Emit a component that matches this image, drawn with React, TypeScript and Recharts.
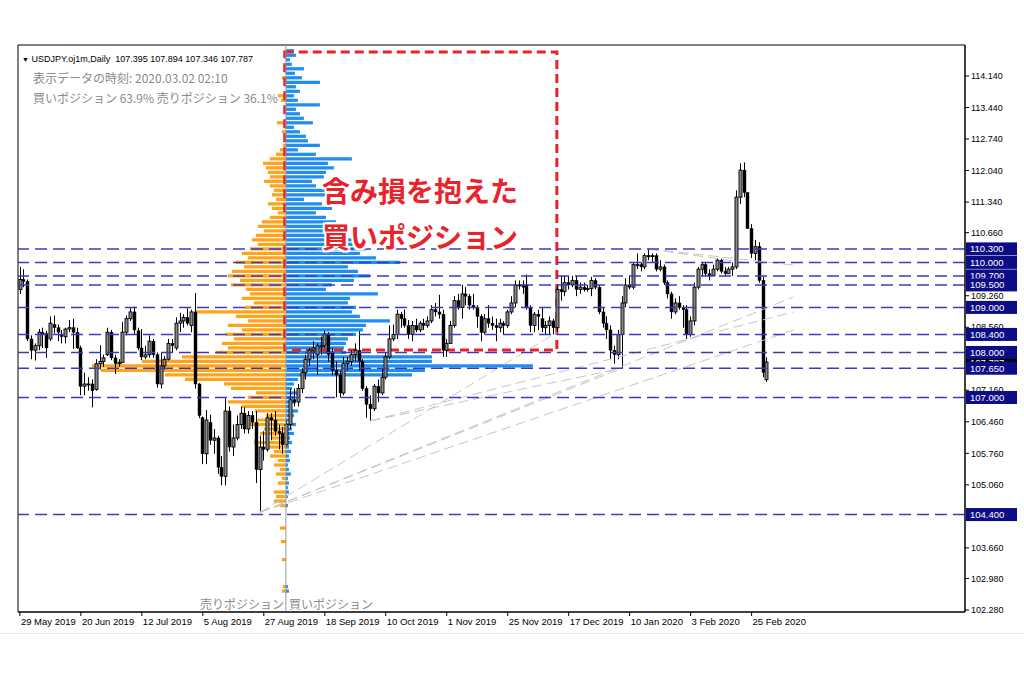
import { ComposedChart, Bar, XAxis, YAxis, ReferenceArea, ReferenceLine } from 'recharts';

// daily USDJPY bars, 29 May 2019 .. 2 Mar 2020 (index 0 = 29 May 2019)
const opens = [
  109.40, 109.62, 109.58, 108.30, 108.05, 108.15, 108.45, 108.42, 108.30, 108.62,
  108.55, 108.40, 108.35, 108.52, 108.55, 108.45, 108.10, 107.25, 107.30, 107.30,
  107.18, 107.75, 107.80, 107.95, 108.45, 107.88, 107.75, 107.78, 108.45, 108.75,
  108.90, 108.48, 108.10, 107.90, 107.95, 108.25, 107.95, 107.30, 107.70, 107.85,
  108.20, 108.10, 108.65, 108.70, 108.78, 108.60, 108.90, 107.30, 106.55, 105.75,
  106.45, 106.05, 106.10, 105.45, 105.25, 106.70, 105.90, 106.10, 106.40, 106.65,
  106.30, 106.60, 106.45, 105.40, 105.90, 105.85, 106.55, 106.50, 106.25, 106.20,
  105.95, 106.40, 106.95, 106.90, 107.20, 107.55, 107.85, 108.05, 107.95, 108.15,
  108.15, 108.40, 108.00, 107.60, 107.50, 107.10, 107.75, 107.80, 107.95, 108.05,
  107.80, 107.20, 106.85, 106.75, 107.25, 107.10, 107.45, 107.90, 108.30, 108.40,
  108.85, 108.75, 108.60, 108.40, 108.60, 108.50, 108.65, 108.60, 108.70, 108.95,
  108.90, 108.85, 108.05, 108.20, 108.60, 109.15, 109.00, 109.30, 109.25, 109.05,
  109.00, 108.80, 108.45, 108.75, 108.65, 108.60, 108.55, 108.65, 108.60, 108.90,
  109.10, 109.50, 109.50, 109.50, 109.00, 108.60, 108.85, 108.75, 108.55, 108.60,
  108.70, 108.55, 109.40, 109.35, 109.55, 109.50, 109.60, 109.40, 109.45, 109.40,
  109.42, 109.60, 109.45, 108.90, 108.65, 108.50, 108.05, 107.95, 108.40, 109.10,
  109.50, 109.45, 109.95, 109.95, 109.90, 110.15, 110.15, 110.15, 109.85, 109.90,
  109.55, 109.30, 108.90, 109.10, 109.00, 108.95, 108.40, 108.70, 109.45, 109.85,
  109.95, 109.75, 109.70, 109.85, 110.05, 109.80, 109.75, 109.85, 109.90, 111.45,
  112.05, 111.55, 110.75, 110.20, 110.35, 109.60, 107.395,
];
const highs = [
  109.90, 109.85, 109.62, 108.38, 108.20, 108.52, 108.55, 108.48, 108.80, 108.82,
  108.62, 108.50, 108.55, 108.72, 108.75, 108.55, 108.15, 107.55, 107.45, 107.40,
  107.85, 108.16, 107.95, 108.55, 108.50, 107.95, 107.85, 108.68, 108.82, 108.99,
  109.02, 108.55, 108.52, 108.15, 108.38, 108.30, 108.00, 108.00, 107.92, 108.30,
  108.30, 108.78, 108.88, 108.85, 108.98, 108.95, 109.32, 107.32, 106.58, 106.72,
  106.62, 106.30, 106.15, 105.70, 106.98, 106.80, 106.40, 106.60, 106.80, 106.78,
  106.70, 106.70, 106.70, 106.15, 106.25, 106.65, 106.65, 106.70, 106.40, 106.35,
  106.50, 107.20, 107.20, 107.30, 107.65, 107.95, 108.10, 108.25, 108.20, 108.35,
  108.48, 108.45, 108.10, 107.80, 107.60, 107.90, 107.90, 108.05, 108.20, 108.47,
  107.85, 107.25, 107.05, 107.30, 107.40, 107.65, 108.00, 108.60, 108.62, 108.95,
  108.90, 108.95, 108.72, 108.70, 108.75, 108.70, 108.75, 108.80, 109.05, 109.10,
  109.28, 108.95, 108.30, 108.70, 109.25, 109.30, 109.50, 109.45, 109.30, 109.30,
  109.05, 108.85, 108.85, 109.05, 108.80, 108.75, 108.75, 108.70, 108.95, 109.25,
  109.60, 109.60, 109.60, 109.73, 109.05, 108.90, 108.95, 109.00, 108.70, 108.80,
  108.75, 109.50, 109.70, 109.70, 109.70, 109.70, 109.70, 109.55, 109.55, 109.50,
  109.68, 109.65, 109.50, 109.00, 108.80, 108.60, 108.15, 108.50, 109.25, 109.65,
  109.70, 110.00, 110.20, 110.00, 110.20, 110.30, 110.20, 110.20, 110.05, 109.95,
  109.60, 109.35, 109.20, 109.25, 109.05, 109.05, 108.80, 109.55, 109.90, 110.00,
  110.00, 109.85, 109.95, 110.10, 110.08, 109.90, 109.90, 110.00, 111.60, 112.20,
  112.22, 111.55, 110.85, 110.50, 110.45, 109.68, 107.894,
];
const lows = [
  109.30, 109.45, 108.25, 107.85, 107.82, 108.05, 108.10, 107.88, 108.25, 108.42,
  108.25, 108.20, 108.20, 108.45, 108.08, 108.08, 107.05, 107.05, 107.15, 106.78,
  107.15, 107.62, 107.68, 107.92, 107.83, 107.52, 107.68, 107.78, 108.38, 108.70,
  108.40, 108.05, 107.83, 107.85, 107.88, 107.88, 107.22, 107.20, 107.62, 107.82,
  108.00, 108.05, 108.45, 108.55, 108.60, 108.45, 107.20, 106.54, 105.52, 105.52,
  105.95, 105.75, 105.30, 105.05, 105.05, 105.80, 105.70, 106.05, 106.30, 106.20,
  106.20, 106.30, 105.10, 104.45, 105.60, 105.80, 106.05, 106.15, 105.85, 105.75,
  105.90, 106.30, 106.80, 106.80, 107.10, 107.40, 107.70, 107.85, 107.50, 107.95,
  108.10, 107.80, 107.50, 107.00, 107.00, 107.05, 107.60, 107.70, 107.80, 107.60,
  107.15, 106.55, 106.48, 106.70, 106.90, 107.05, 107.40, 107.85, 108.25, 108.30,
  108.55, 108.55, 108.30, 108.25, 108.45, 108.45, 108.50, 108.55, 108.65, 108.80,
  108.75, 107.90, 107.90, 108.20, 108.55, 108.95, 108.75, 109.05, 108.95, 108.95,
  108.55, 108.25, 108.40, 108.55, 108.50, 108.25, 108.45, 108.40, 108.55, 108.85,
  109.00, 109.40, 109.30, 108.95, 108.45, 108.45, 108.50, 108.45, 108.40, 108.40,
  108.40, 108.45, 109.15, 109.25, 109.40, 109.45, 109.25, 109.30, 109.35, 109.35,
  109.25, 109.40, 108.85, 108.55, 108.30, 107.85, 107.75, 107.85, 107.65, 109.00,
  109.40, 109.40, 109.85, 109.80, 109.85, 110.05, 110.00, 109.80, 109.80, 109.50,
  109.20, 108.75, 108.85, 108.95, 108.55, 108.30, 108.35, 108.60, 109.40, 109.70,
  109.70, 109.60, 109.70, 109.80, 109.75, 109.70, 109.75, 109.70, 109.85, 111.30,
  111.45, 110.75, 110.10, 110.05, 109.55, 107.45, 107.346,
];
const closes = [
  109.62, 109.58, 108.30, 108.05, 108.15, 108.45, 108.40, 108.10, 108.65, 108.55,
  108.45, 108.35, 108.52, 108.55, 108.45, 108.10, 107.25, 107.30, 107.30, 107.15,
  107.75, 107.80, 107.88, 108.45, 107.88, 107.75, 107.78, 108.45, 108.75, 108.90,
  108.50, 108.10, 107.90, 107.95, 108.25, 107.95, 107.30, 107.70, 107.85, 108.20,
  108.15, 108.65, 108.70, 108.78, 108.65, 108.90, 107.30, 106.60, 105.75, 106.50,
  106.05, 106.10, 105.45, 105.25, 106.70, 105.90, 106.10, 106.40, 106.65, 106.30,
  106.60, 106.45, 105.40, 105.90, 105.85, 106.55, 106.50, 106.25, 106.20, 105.95,
  106.40, 106.95, 106.90, 107.20, 107.55, 107.85, 108.05, 108.10, 108.15, 108.15,
  108.40, 107.95, 107.60, 107.50, 107.10, 107.75, 107.80, 107.95, 108.05, 107.80,
  107.20, 106.85, 106.75, 107.25, 107.10, 107.45, 107.90, 108.30, 108.40, 108.85,
  108.75, 108.60, 108.40, 108.60, 108.50, 108.65, 108.60, 108.70, 108.95, 108.90,
  108.85, 108.05, 108.20, 108.60, 109.15, 109.00, 109.30, 109.25, 109.05, 109.00,
  108.80, 108.45, 108.75, 108.65, 108.60, 108.55, 108.65, 108.60, 108.90, 109.10,
  109.50, 109.50, 109.45, 109.00, 108.60, 108.85, 108.80, 108.55, 108.60, 108.70,
  108.55, 109.40, 109.35, 109.55, 109.50, 109.60, 109.40, 109.45, 109.40, 109.42,
  109.60, 109.45, 108.90, 108.65, 108.50, 108.05, 107.95, 108.40, 109.10, 109.50,
  109.45, 109.95, 109.95, 109.90, 110.15, 110.15, 110.15, 109.85, 109.90, 109.55,
  109.30, 108.90, 109.10, 109.00, 108.95, 108.40, 108.70, 109.45, 109.85, 109.95,
  109.75, 109.70, 109.85, 110.05, 109.80, 109.75, 109.85, 109.90, 111.45, 112.05,
  111.55, 110.75, 110.20, 110.35, 109.60, 107.55, 107.787,
];

const dateTicks = [0, 16, 32, 48, 64, 80, 96, 112, 128, 144, 160, 176, 192];
const dateLabels = [
  '29 May 2019', '20 Jun 2019', '12 Jul 2019', '5 Aug 2019', '27 Aug 2019', '18 Sep 2019',
  '10 Oct 2019', '1 Nov 2019', '25 Nov 2019', '17 Dec 2019', '10 Jan 2020', '3 Feb 2020', '25 Feb 2020',
];
// 109.960, 107.860 and 104.360 sit under the level tags
const priceTicks = [
  114.14, 113.44, 112.74, 112.04, 111.34, 110.66, 109.26, 108.56,
  107.16, 106.46, 105.76, 105.06, 103.66, 102.98, 102.28,
];

// order book, 0.1 yen buckets from 114.8 down to 102.6 (% of positions)
const bookTop = 114.8;
const bookStep = 0.1;
const buyBook = [
  0.05, 0.08, 0.10, 0.04, 0.06, 0.18, 0.09, 0.16, 0.34, 0.10,
  0.14, 0.08, 0.12, 0.34, 0.10, 0.14, 0.18, 0.27, 0.08, 0.14,
  0.20, 0.22, 0.34, 0.12, 0.30, 0.66, 0.42, 0.48, 0.40, 0.38,
  0.26, 0.30, 0.52, 0.44, 0.18, 0.36, 0.46, 0.30, 0.40, 0.50,
  0.44, 0.56, 0.62, 0.66, 0.70, 0.80, 0.74, 0.90, 1.14, 0.62,
  0.72, 0.84, 0.68, 0.46, 0.40, 0.92, 0.64, 0.62, 0.70, 0.66,
  0.74, 1.04, 0.80, 0.77, 0.70, 0.62, 0.60, 0.58, 0.60, 1.46,
  1.46, 2.47, 1.39, 1.26, 0.12, 0.08, 0.06, 0.12, 0.08, 0.10,
  0.06, 0.12, 0.08, 0.04, 0.10, 0.06, 0.08, 0.04, 0.06, 0.03,
  0.05, 0.03, 0.04, 0.02, 0.03, 0.05, 0.02, 0.03, 0.02, 0.03,
  0.02, 0, 0.02, 0, 0, 0, 0, 0, 0, 0,
  0, 0, 0, 0, 0, 0, 0, 0, 0, 0,
  0.02, 0.03, 0,
];
const sellBook = [
  0, 0, 0, 0, 0, 0, 0, 0.04, 0, 0,
  0, 0.08, 0.05, 0, 0, 0, 0, 0.09, 0, 0.04,
  0, 0, 0.03, 0.06, 0.10, 0.16, 0.23, 0.20, 0.18, 0.16,
  0.22, 0.16, 0.12, 0.14, 0.10, 0.18, 0.14, 0.08, 0.16, 0.24,
  0.28, 0.22, 0.30, 0.34, 0.28, 0.36, 0.44, 0.38, 0.50, 0.42,
  0.54, 0.58, 0.46, 0.55, 0.40, 0.36, 0.44, 0.32, 0.41, 0.91,
  0.50, 0.38, 0.58, 0.44, 0.60, 0.52, 0.64, 0.58, 0.70, 1.04,
  1.44, 1.94, 1.85, 1.21, 1.01, 0.62, 0.55, 0.30, 0.38, 0.58,
  0.44, 0.31, 0.20, 0.30, 0.38, 0.22, 0.26, 0.15, 0.32, 0.18,
  0.12, 0.16, 0.08, 0.12, 0.06, 0.10, 0.04, 0.08, 0, 0.12,
  0.10, 0.12, 0.06, 0, 0, 0, 0, 0.06, 0, 0,
  0.05, 0, 0, 0, 0.04, 0, 0, 0, 0, 0,
  0.03, 0.04, 0,
];
// the book's zero line sits at this bar; 1% of positions spans this many bars
const bookCenter = 69.8;
const barsPerPercent = 26.24;

const levels = [110.3, 110.0, 109.7, 109.5, 109.0, 108.4, 108.0, 107.65, 107.0, 104.4];
const lastPrice = 107.787;

// trend lines drawn on the chart: [bar, price, bar, price]
const trendLines = [
  [63, 104.45, 141, 108.45],
  [63, 104.45, 158, 107.65],
  [63, 104.45, 203, 109.23],
  [63, 104.45, 203, 108.5],
  [92, 106.48, 158, 107.65],
  [92, 106.48, 203, 108.9],
  [165, 110.3, 203, 109.94],
  [165, 110.3, 190, 110.0],
];

// box around the loss-making buy positions: [bar, bar, price, price]
const lossBox = [69.5, 140.9, 108.055, 114.673];

const candles = opens.map((o, i) => ({
  i,
  open: o,
  high: highs[i],
  low: lows[i],
  close: closes[i],
}));

const bookRows = buyBook.map((b, k) => ({
  price: +(bookTop - k * bookStep).toFixed(2),
  buy: b,
  sell: sellBook[k],
}));

const FONT = '"Liberation Sans", Arial, sans-serif';
const JP = '"Noto Sans CJK JP", sans-serif';
const Y_DOMAIN = [102.236, 114.828];

function Candle(props: any) {
  const { x, y, width, height, payload } = props;
  if (x == null || !payload) return null;
  const top = Math.min(y, y + height);
  const h = Math.abs(height);
  const { open, high, low, close } = payload;
  const span = high - low || 1e-6;
  const yOf = (v: number) => top + ((high - v) / span) * h;
  const cx = Math.round(x + width / 2) + 0.5;
  const bull = close >= open;
  const bTop = yOf(Math.max(open, close));
  const bBot = yOf(Math.min(open, close));
  return (
    <g>
      <line x1={cx} x2={cx} y1={top} y2={top + h} stroke="#000" strokeWidth={1} />
      <rect
        x={cx - 1.5}
        y={bTop}
        width={3}
        height={Math.max(bBot - bTop, 1)}
        fill={bull ? '#8c8c8c' : '#000'}
        stroke="#000"
        strokeWidth={bull ? 0.9 : 0.4}
      />
    </g>
  );
}

function DateTick(props: any) {
  const { x, y, payload } = props;
  const label = dateLabels[dateTicks.indexOf(payload.value)];
  return (
    <text x={x + 1} y={y + 7} fontSize={9.5} fontFamily={FONT} fill="#000" textAnchor="start">
      {label}
    </text>
  );
}

// price tags sit on a thin axis placed right of the price scale, so they draw over it
function TagTick(props: any) {
  const { x, y, payload } = props;
  const v = payload.value;
  const isLast = v === lastPrice;
  const left = x - 54;
  return (
    <g>
      <rect x={left} y={y - 6.5} width={51} height={13} fill={isLast ? '#000' : '#0c0c86'} />
      <text x={left + 4} y={y + 3.5} fontSize={9.5} fontFamily={FONT} fill="#fff">
        {v.toFixed(3)}
      </text>
    </g>
  );
}

export default function App() {
  return (
    <div style={{ position: 'fixed', left: 0, top: 0, width: 1024, height: 683, background: '#fff', overflow: 'hidden' }}>
      <ComposedChart width={1024} height={683} data={candles} margin={{ top: 45, right: 3, bottom: 51, left: 18 }}>
        <XAxis
          xAxisId="t"
          type="number"
          dataKey="i"
          domain={[-0.5, 248]}
          allowDataOverflow
          ticks={dateTicks}
          interval={0}
          height={20}
          tickSize={4}
          axisLine={{ stroke: '#000' }}
          tickLine={{ stroke: '#000' }}
          tick={<DateTick />}
        />
        <YAxis
          orientation="right"
          width={55}
          domain={Y_DOMAIN}
          allowDataOverflow
          ticks={priceTicks}
          interval={0}
          tickSize={4}
          tickFormatter={(v: number) => v.toFixed(3)}
          tick={{ fontSize: 9, fill: '#000', fontFamily: FONT }}
          axisLine={{ stroke: '#000' }}
          tickLine={{ stroke: '#000' }}
        />
        <YAxis
          yAxisId="tags"
          orientation="right"
          width={1}
          domain={Y_DOMAIN}
          allowDataOverflow
          ticks={[lastPrice, ...levels]}
          interval={0}
          tickSize={0}
          tickMargin={0}
          axisLine={false}
          tickLine={false}
          tick={<TagTick />}
        />

        {bookRows
          .filter((r) => r.sell > 0)
          .map((r) => (
            <ReferenceArea
              key={'s' + r.price}
              xAxisId="t"
              x1={bookCenter - r.sell * barsPerPercent}
              x2={bookCenter}
              y1={r.price - 0.036}
              y2={r.price + 0.036}
              fill="#ffa31a"
              fillOpacity={1}
              stroke="none"
            />
          ))}
        {bookRows
          .filter((r) => r.buy > 0)
          .map((r) => (
            <ReferenceArea
              key={'b' + r.price}
              xAxisId="t"
              x1={bookCenter}
              x2={bookCenter + r.buy * barsPerPercent}
              y1={r.price - 0.036}
              y2={r.price + 0.036}
              fill="#1f8ef0"
              fillOpacity={1}
              stroke="none"
            />
          ))}
        <ReferenceLine xAxisId="t" x={bookCenter} stroke="#9a9a9a" strokeWidth={1} />

        <ReferenceArea
          xAxisId="t"
          x1={-0.5}
          x2={248}
          y1={Y_DOMAIN[0]}
          y2={Y_DOMAIN[1]}
          fill="none"
          stroke="#000"
          strokeWidth={1}
        />

        {trendLines.map((t, k) => (
          <ReferenceLine
            key={'tl' + k}
            xAxisId="t"
            segment={[
              { x: t[0], y: t[1] },
              { x: t[2], y: t[3] },
            ]}
            stroke="#c6c6c6"
            strokeWidth={1}
            strokeDasharray="10 5"
          />
        ))}

        {levels.map((lv) => (
          <ReferenceLine
            key={'lv' + lv}
            xAxisId="t"
            y={lv}
            stroke="#3a3ac0"
            strokeWidth={1.5}
            strokeDasharray="12 6"
          />
        ))}

        <ReferenceArea
          xAxisId="t"
          x1={lossBox[0]}
          x2={lossBox[1]}
          y1={lossBox[2]}
          y2={lossBox[3]}
          fill="none"
          fillOpacity={0}
          stroke="#e8232b"
          strokeWidth={3}
          strokeDasharray="9 5"
        />

        <Bar
          xAxisId="t"
          dataKey={(d: any) => [d.low, d.high]}
          barSize={3}
          shape={<Candle />}
          isAnimationActive={false}
        />
      </ComposedChart>

      <div style={{ position: 'absolute', left: 22, top: 54, fontSize: 9, fontFamily: FONT, color: '#000', whiteSpace: 'nowrap' }}>
        <span style={{ fontSize: 7 }}>▼</span> USDJPY.oj1m,Daily&nbsp; 107.395 107.894 107.346 107.787
      </div>
      <div style={{ position: 'absolute', left: 33, top: 69, fontSize: 12, fontFamily: JP, color: '#8a8a8a', whiteSpace: 'nowrap' }}>
        表示データの時刻: 2020.03.02 02:10
      </div>
      <div style={{ position: 'absolute', left: 33, top: 89, fontSize: 12, fontFamily: JP, color: '#8a8a8a', whiteSpace: 'nowrap' }}>
        買いポジション 63.9% 売りポジション 36.1%
      </div>

      <div style={{ position: 'absolute', right: 1024 - 284, top: 595, fontSize: 12, fontFamily: JP, color: '#8a8a8a', whiteSpace: 'nowrap' }}>
        売りポジション
      </div>
      <div style={{ position: 'absolute', left: 289, top: 595, fontSize: 12, fontFamily: JP, color: '#8a8a8a', whiteSpace: 'nowrap' }}>
        買いポジション
      </div>

      {['含み損を抱えた', '買いポジション'].map((s, k) => (
        <div
          key={s}
          style={{
            position: 'absolute',
            left: 322,
            top: 170 + k * 46,
            fontSize: 28,
            fontWeight: 700,
            fontFamily: JP,
            color: '#e8232b',
            whiteSpace: 'nowrap',
            lineHeight: '40px',
            textShadow:
              '2px 0 #fff, -2px 0 #fff, 0 2px #fff, 0 -2px #fff, 2px 2px #fff, -2px -2px #fff, 2px -2px #fff, -2px 2px #fff',
          }}
        >
          {s}
        </div>
      ))}

      <div style={{ position: 'absolute', left: 0, top: 633, width: 1024, height: 1, background: '#ececec' }} />
    </div>
  );
}
